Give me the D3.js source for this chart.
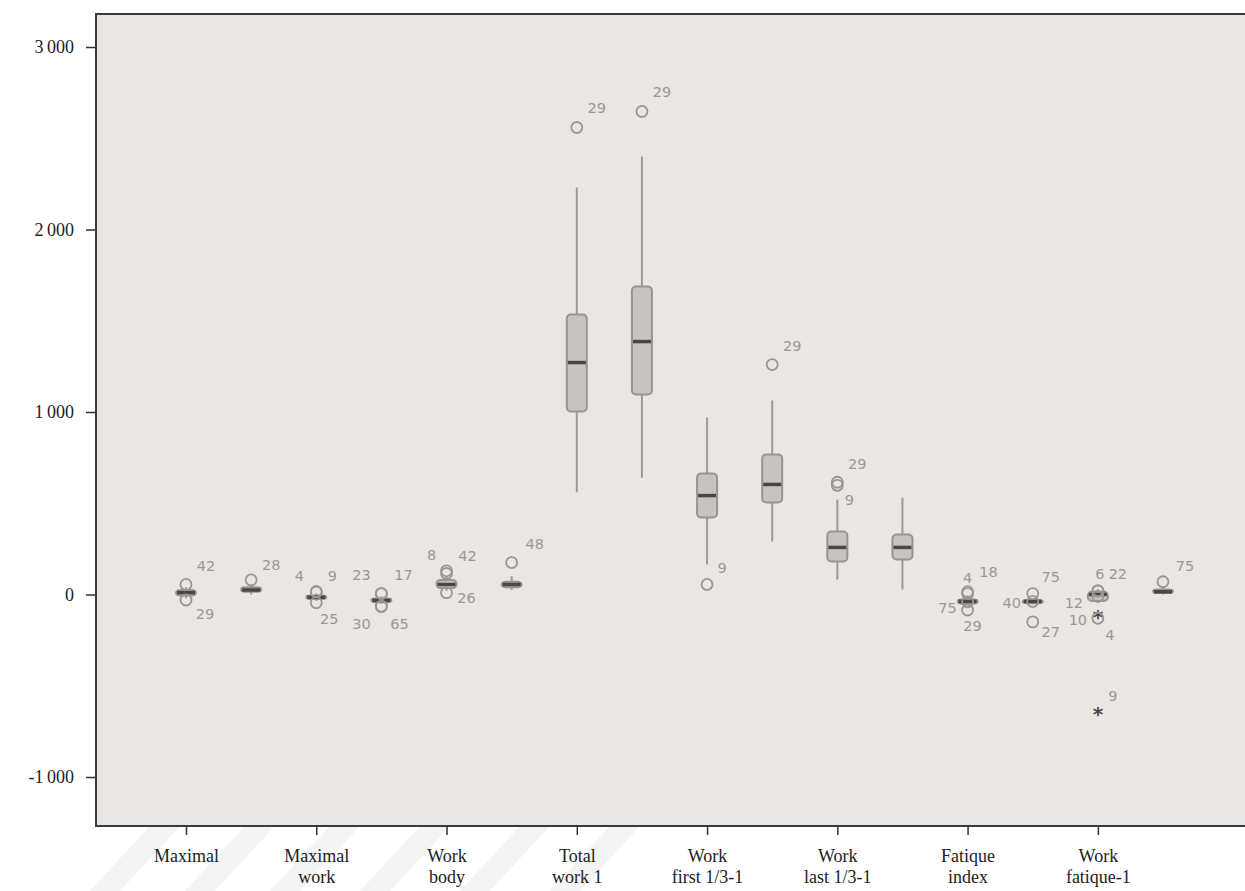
<!DOCTYPE html>
<html>
<head>
<meta charset="utf-8">
<script src="https://cdn.jsdelivr.net/npm/d3@7"></script>
<style>
  html, body { margin: 0; padding: 0; background: #ffffff; }
  svg { display: block; }
</style>
</head>
<body>
<svg id="chart" width="1245" height="891"></svg>
<script>
// Sixteen box plots, paired per variable (first and second measurement)
const boxIds      = ["m1","m2","mw1","mw2","wb1","wb2","tw1","tw2","wf1","wf2","wl1","wl2","fi1","fi2","wq1","wq2"];
const tickLabels  = [["Maximal"],["Maximal","work"],["Work","body"],["Total","work 1"],
                     ["Work","first 1/3-1"],["Work","last 1/3-1"],["Fatique","index"],["Work","fatique-1"]];
const whiskerLow  = [-20,   0, -35, -50,  20,  25,  560,  640, 165, 290,  82,  27, -60, -55, -45,   0];
const q1Values    = [ -5,  15, -25, -42,  35,  40, 1003, 1096, 422, 504, 181, 192, -50, -48, -35,   8];
const medianVals  = [ 10,  25, -15, -32,  55,  55, 1271, 1386, 542, 603, 258, 258, -38, -38,   0,  15];
const q3Values    = [ 25,  40,  -5, -22,  80,  70, 1534, 1688, 663, 767, 345, 329, -28, -30,  15,  28];
const whiskerHigh = [ 40,  55,   5, -10, 100, 100, 2230, 2400, 970,1063, 520, 531, -15, -20,  30,  45];
const yTicks      = [-1000, 0, 1000, 2000, 3000];

// Outlying cases: [box index, value, case number, marker]
const outliers = [
  [0,   55, "42", "o"], [0,  -30, "29", "o"],
  [1,   80, "28", "o"],
  [2,   15, "4",  "o"], [2,   15, "9",  "o"], [2,  -45, "25", "o"],
  [3,    5, "23", "o"], [3,    5, "17", "o"], [3,  -65, "30", "o"], [3, -65, "65", "o"],
  [4,  130, "8",  "o"], [4,  115, "42", "o"], [4,   10, "26", "o"],
  [5,  175, "48", "o"],
  [6, 2559, "29", "o"],
  [7, 2647, "29", "o"],
  [8,   55, "9",  "o"],
  [9, 1260, "29", "o"],
  [10, 615, "29", "o"], [10, 598, "9",  "o"],
  [12,   5, "4",  "o"], [12,  15, "18", "o"], [12, -40, "75", "o"], [12, -85, "29", "o"],
  [13, -38, "40", "o"], [13,   5, "75", "o"], [13, -150, "27", "o"],
  [14,  20, "6",  "o"], [14,  20, "22", "o"], [14, -10, "12", "o"], [14, -120, "10", "*"],
  [14, -130, "4", "o"], [14, -647, "9", "*"],
  [15,  70, "75", "o"]
];

// Label offsets (dx, dy) from each outlier marker, keyed "box:case"
const labelOffset = {
  "0:42": [20, -18], "0:29": [19, 14],
  "1:28": [20, -15],
  "2:4": [-17, -16], "2:9": [16, -16], "2:25": [13, 16],
  "3:23": [-20, -19], "3:17": [22, -19], "3:30": [-20, 18], "3:65": [18, 18],
  "4:8": [-15, -16], "4:42": [21, -18], "4:26": [20, 5],
  "5:48": [23, -19],
  "6:29": [20, -19], "7:29": [20, -19], "8:9": [15, -16], "9:29": [20, -19],
  "10:29": [20, -18], "10:9": [12, 15],
  "12:4": [0, -16], "12:18": [21, -20], "12:75": [-20, 6], "12:29": [5, 16],
  "13:40": [-21, 2], "13:75": [18, -17], "13:27": [18, 10],
  "14:6": [2, -17], "14:22": [20, -17], "14:12": [-24, 7], "14:10": [-20, 4],
  "14:4": [12, 17], "14:9": [15, -17],
  "15:75": [22, -16]
};

const W = 1245, H = 891;
const frame = { left: 96, top: 14, right: 1260, bottom: 826 };

const svg = d3.select("#chart");

const x = d3.scalePoint().domain(boxIds).range([186, 1163]);
const y = d3.scaleLinear().domain([-1000, 3000]).range([777, 47]);

// faint diagonal watermark bands below the plot
const wm = svg.append("g").attr("fill", "#f4f4f4");
[150, 245, 330, 420, 520, 610].forEach(bx => {
  wm.append("path")
    .attr("d", `M${bx},${frame.bottom} L${bx + 30},${frame.bottom} L${bx - 30},${H} L${bx - 60},${H} Z`);
});

// plot background
svg.append("rect")
  .attr("x", frame.left).attr("y", frame.top)
  .attr("width", frame.right - frame.left).attr("height", frame.bottom - frame.top)
  .attr("fill", "#e9e6e3");

const serif = "'Liberation Serif', 'DejaVu Serif', serif";

// y axis
const yAxis = svg.append("g")
  .attr("transform", `translate(${frame.left},0)`)
  .call(d3.axisLeft(y).tickValues(yTicks).tickSize(10).tickPadding(12)
    .tickFormat(d => d3.format(",")(d).replace(/,/g, "\u2009").replace("\u2212", "-")));
yAxis.select(".domain").remove();
yAxis.selectAll(".tick line").attr("stroke", "#333").attr("stroke-width", 1.5);
yAxis.selectAll(".tick text")
  .attr("font-family", serif).attr("font-size", 18).attr("fill", "#222");

// x axis ticks on every other box (one per variable)
const labelled = boxIds.filter((d, i) => i % 2 === 0);
const xAxis = svg.append("g")
  .attr("transform", `translate(0,${frame.bottom})`)
  .call(d3.axisBottom(x).tickValues(labelled).tickSize(9).tickFormat(""));
xAxis.select(".domain").remove();
xAxis.selectAll(".tick line").attr("stroke", "#333").attr("stroke-width", 1.5);
xAxis.selectAll(".tick").each(function(d, i) {
  const t = d3.select(this).append("text")
    .attr("font-family", serif).attr("font-size", 18).attr("fill", "#222")
    .attr("text-anchor", "middle");
  tickLabels[i].forEach((line, k) => {
    t.append("tspan").attr("x", 0).attr("y", 36 + k * 21).text(line);
  });
});

// frame lines: top, left, bottom
svg.append("path")
  .attr("d", `M${frame.right},${frame.top} L${frame.left},${frame.top} L${frame.left},${frame.bottom} L${frame.right},${frame.bottom}`)
  .attr("fill", "none").attr("stroke", "#3a3a3a").attr("stroke-width", 2);

// boxes
const boxW = 20;
const plot = svg.append("g");
boxIds.forEach((id, i) => {
  const cx = x(id);
  const g = plot.append("g");
  // whisker line
  g.append("line")
    .attr("x1", cx).attr("x2", cx)
    .attr("y1", y(whiskerLow[i])).attr("y2", y(whiskerHigh[i]))
    .attr("stroke", "#9d9997").attr("stroke-width", 2);
  // box
  g.append("rect")
    .attr("x", cx - boxW / 2).attr("y", y(q3Values[i]))
    .attr("width", boxW).attr("height", Math.max(2, y(q1Values[i]) - y(q3Values[i])))
    .attr("rx", 4)
    .attr("fill", "#c7c3c0").attr("stroke", "#98948f").attr("stroke-width", 2);
  // median
  g.append("line")
    .attr("x1", cx - boxW / 2 + 1).attr("x2", cx + boxW / 2 - 1)
    .attr("y1", y(medianVals[i])).attr("y2", y(medianVals[i]))
    .attr("stroke", "#4a4643").attr("stroke-width", 3.5);
});

// outliers and their case labels
const outG = svg.append("g");
outliers.forEach(([bi, v, caseNo, mark]) => {
  const cx = x(boxIds[bi]), cy = y(v);
  if (mark === "*") {
    outG.append("text")
      .attr("x", cx).attr("y", cy + 8)
      .attr("text-anchor", "middle")
      .attr("font-family", "'DejaVu Sans', sans-serif").attr("font-size", 20)
      .attr("font-weight", "bold")
      .attr("fill", "#4a4643").text("*");
  } else {
    outG.append("circle")
      .attr("cx", cx).attr("cy", cy).attr("r", 5.5)
      .attr("fill", "none").attr("stroke", "#9a9693").attr("stroke-width", 1.8);
  }
  const off = labelOffset[bi + ":" + caseNo] || [16, -14];
  outG.append("text")
    .attr("x", cx + off[0]).attr("y", cy + off[1] + 5)
    .attr("text-anchor", "middle")
    .attr("font-family", "'DejaVu Sans', sans-serif").attr("font-size", 14.5)
    .attr("fill", "#9c9896")
    .text(caseNo);
});
</script>
</body>
</html>
